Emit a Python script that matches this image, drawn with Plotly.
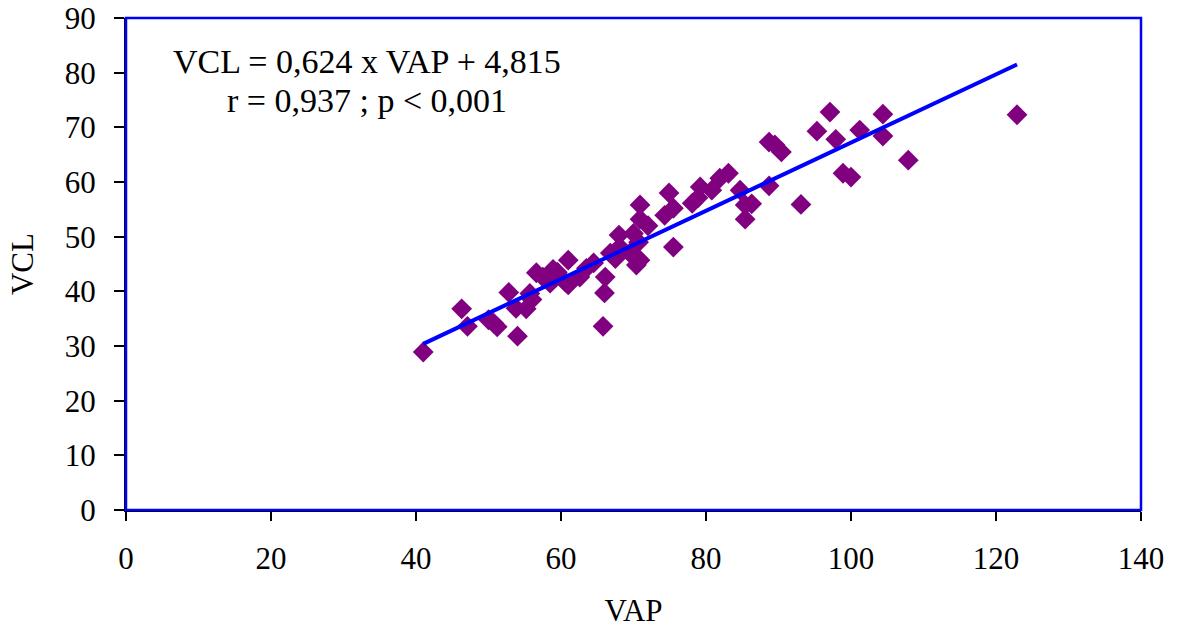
import plotly.graph_objects as go

vap = [41.0, 46.3, 47.1, 50.0, 50.7, 51.2, 52.8, 53.8, 54.0, 55.2, 56.0, 55.7, 56.6, 57.5,
       58.5, 58.9, 59.5, 60.6, 61.0, 61.0, 62.6, 64.5, 65.8, 66.0, 66.1, 66.8, 67.5, 68.0,
       68.1, 69.5, 70.0, 70.7, 70.4, 70.9, 70.9, 70.9, 74.3, 74.9, 75.5, 75.5, 78.1, 78.9,
       79.2, 80.8, 81.9, 83.1, 84.7, 85.4, 85.4, 86.3, 88.7, 88.7, 89.5, 90.4, 93.1, 95.3,
       97.1, 97.9, 98.9, 100.0, 101.2, 104.4, 104.4, 107.9, 122.9, 63.5, 72.0]
vcl = [28.9, 36.8, 33.6, 34.8, 34.2, 33.5, 39.8, 36.9, 31.8, 36.8, 38.5, 39.6, 43.4, 42.6,
       41.5, 44.0, 43.5, 41.7, 45.7, 41.2, 42.6, 45.2, 33.6, 39.7, 42.6, 47.0, 46.0, 50.3,
       48.1, 47.0, 50.6, 49.0, 44.8, 45.7, 53.2, 55.8, 53.9, 58.0, 55.2, 48.1, 56.1, 57.1,
       59.1, 58.5, 60.7, 61.6, 58.5, 53.2, 55.8, 56.0, 59.3, 67.3, 66.8, 65.5, 55.9, 69.3,
       72.8, 67.8, 61.6, 60.9, 69.5, 72.4, 68.4, 64.0, 72.3, 44.2, 52.0]

slope = 0.624
intercept = 4.815
x_ticks = [0, 20, 40, 60, 80, 100, 120, 140]
y_ticks = [0, 10, 20, 30, 40, 50, 60, 70, 80, 90]
eq_lines = ["VCL = 0,624 x VAP + 4,815", "r = 0,937 ; p < 0,001"]

fit_x = [min(vap), max(vap)]
fit_y = [slope * v + intercept for v in fit_x]

FONT = "Liberation Serif, Times New Roman, serif"

fig = go.Figure()
fig.add_trace(go.Scatter(x=vap, y=vcl, mode="markers",
                         marker=dict(symbol="diamond", size=16, color="#800080",
                                     line=dict(width=0)),
                         showlegend=False))
fig.add_trace(go.Scatter(x=fit_x, y=fit_y, mode="lines",
                         line=dict(color="#0000FF", width=4), showlegend=False))

fig.update_layout(
    width=1181, height=630,
    margin=dict(l=126, r=40, t=18, b=120, autoexpand=False),
    paper_bgcolor="white", plot_bgcolor="white",
    font=dict(family=FONT, size=31, color="black"),
    xaxis=dict(range=[0, 140], tickvals=x_ticks, showgrid=False, zeroline=False,
               automargin=False,
               showline=True, linecolor="black", linewidth=2,
               ticks="outside", ticklen=9, tickwidth=1.5, tickcolor="black",
               ticklabelstandoff=11,
               title=dict(text="VAP", standoff=24, font=dict(size=31))),
    yaxis=dict(range=[0, 90], tickvals=y_ticks, showgrid=False, zeroline=False,
               automargin=False,
               showline=True, linecolor="black", linewidth=2,
               ticks="outside", ticklen=10, tickwidth=1.5, tickcolor="black",
               ticklabelstandoff=12,
               title=dict(text="VCL", standoff=22, font=dict(size=31))),
    shapes=[dict(type="rect", xref="paper", yref="paper", x0=0, y0=0, x1=1, y1=1,
                 line=dict(color="#0000FF", width=2.5), layer="above")],
    annotations=[
        dict(xref="paper", yref="paper", x=0.2374, y=0.9106, text=eq_lines[0],
             showarrow=False, xanchor="center", yanchor="middle",
             font=dict(family=FONT, size=34, color="black")),
        dict(xref="paper", yref="paper", x=0.2374, y=0.8333, text=eq_lines[1],
             showarrow=False, xanchor="center", yanchor="middle",
             font=dict(family=FONT, size=34, color="black")),
    ],
)

fig.write_html("out.html")
